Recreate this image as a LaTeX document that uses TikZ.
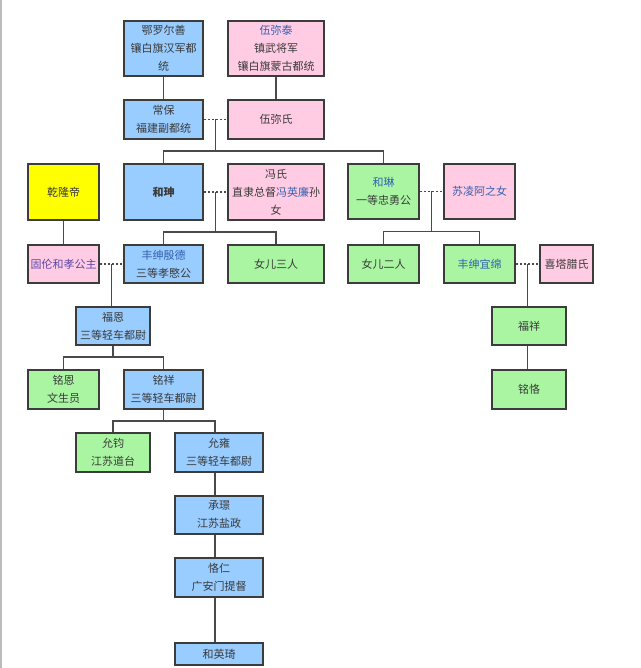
\documentclass[tikz,border=0pt]{standalone}
\usepackage{fontspec}
\newfontfamily\cjk{Noto Sans CJK SC}
\usetikzlibrary{calc}
\definecolor{cblue}{HTML}{99CCFF}
\definecolor{cpink}{HTML}{FFCCE3}
\definecolor{cgreen}{HTML}{A9F5A2}
\definecolor{cyellow}{HTML}{FFFF00}
\definecolor{bord}{HTML}{3C3C3C}
\definecolor{lnc}{HTML}{4A4A4A}
\definecolor{txt}{HTML}{3A3A3A}
\definecolor{tblue}{HTML}{3560B0}
\definecolor{tpurple}{HTML}{5A48A8}
\definecolor{edge}{HTML}{BBBBBB}
\begin{document}
\begin{tikzpicture}[x=1pt,y=-1pt,
  bx/.style={draw=bord, line width=1.3pt, inner sep=0pt, align=center, text=txt,
    font=\cjk\fontsize{11}{18}\selectfont},
  bl/.style={bx, fill=cblue},
  pk/.style={bx, fill=cpink},
  gr/.style={bx, fill=cgreen},
  yl/.style={bx, fill=cyellow},
  sz/.style 2 args={minimum width=#1pt, minimum height=#2pt},
  ln/.style={draw=lnc, line width=1.3pt},
  sp/.style={draw=lnc, line width=1.3pt, dash pattern=on 2.5pt off 1.5pt}]
\useasboundingbox[fill=white] (0,0) rectangle (640,668);
\draw[edge, line width=2pt] (1,0) -- (1,668);

% nodes
\node[bl, sz={79}{55}] (eluo) at (163.5,48.5) {鄂罗尔善\\镶白旗汉军都\\统};
\node[pk, sz={96}{55}] (wumitai) at (276,48.5) {\textcolor{tblue}{伍弥泰}\\镇武将军\\镶白旗蒙古都统};
\node[bl, sz={79}{39}] (changbao) at (163.5,119.5) {常保\\福建副都统};
\node[pk, sz={96}{39}] (wumishi) at (276,119.5) {伍弥氏};
\node[yl, sz={71}{56}] (qianlong) at (63.5,192) {乾隆帝};
\node[bl, sz={79}{56}, font=\cjk\bfseries\fontsize{11}{18}\selectfont] (heshen) at (163.5,192) {和珅};
\node[pk, sz={96}{56}] (fengshi) at (276,192) {冯氏\\直隶总督\textcolor{tblue}{冯英廉}孙\\女};
\node[gr, sz={71}{55}] (helin) at (383.5,191.5) {\textcolor{tblue}{和琳}\\一等忠勇公};
\node[pk, sz={71}{55}] (suling) at (479.5,191.5) {\textcolor{tblue}{苏凌阿之女}};
\node[pk, sz={71}{38}] (gulun) at (63.5,264) {\textcolor{tpurple}{固伦和孝公主}};
\node[bl, sz={79}{38}] (yinde) at (163.5,264) {\textcolor{tblue}{丰绅殷德}\\三等孝愍公};
\node[gr, sz={96}{38}] (nver3) at (276,264) {女儿三人};
\node[gr, sz={71}{38}] (nver2) at (383.5,264) {女儿二人};
\node[gr, sz={71}{38}] (yimian) at (479.5,264) {\textcolor{tblue}{丰绅宜绵}};
\node[pk, sz={53}{38}] (xitala) at (566.5,264) {喜塔腊氏};
\node[bl, sz={74}{38}] (fuen) at (113,326) {福恩\\三等轻车都尉};
\node[gr, sz={71}{39}] (mingen) at (63.5,389.5) {铭恩\\文生员};
\node[bl, sz={79}{39}] (mingxiang) at (163.5,389.5) {铭祥\\三等轻车都尉};
\node[gr, sz={74}{38}] (fuxiang) at (529,326) {福祥};
\node[gr, sz={74}{39}] (mingke) at (529,389.5) {铭恪};
\node[gr, sz={74}{39}] (yunjun) at (113,452.5) {允钧\\江苏道台};
\node[bl, sz={88}{39}] (yunyong) at (219,452.5) {允雍\\三等轻车都尉};
\node[bl, sz={88}{38}] (chengjing) at (219,515) {承璟\\江苏盐政};
\node[bl, sz={88}{39}] (keren) at (219,577.5) {恪仁\\广安门提督};
\node[bl, sz={88}{22}] (heyingqi) at (219,654) {和英琦};

% connectors
\draw[ln] (eluo) -- (changbao);
\draw[ln] (wumitai) -- (wumishi);
\draw[ln] (qianlong) -- (gulun);

\draw[sp] (changbao.east) -- (wumishi.west);
\coordinate (m1) at ($(changbao.east)!0.5!(wumishi.west)$);
\coordinate (b1) at (215.5,151);
\draw[ln] (m1) -- (b1);
\draw[ln] (heshen.north) |- (b1) -| (helin.north);

\draw[sp] (heshen.east) -- (fengshi.west);
\coordinate (m2) at ($(heshen.east)!0.5!(fengshi.west)$);
\coordinate (b2) at (215.5,232);
\draw[ln] (m2) -- (b2);
\draw[ln] (yinde.north) |- (b2) -| (nver3.north);

\draw[sp] (helin.east) -- (suling.west);
\coordinate (m3) at ($(helin.east)!0.5!(suling.west)$);
\coordinate (b3) at (431.5,231.5);
\draw[ln] (m3) -- (b3);
\draw[ln] (nver2.north) |- (b3) -| (yimian.north);

\draw[sp] (gulun.east) -- (yinde.west);
\coordinate (m4) at ($(gulun.east)!0.5!(yinde.west)$);
\draw[ln] (m4) -- (m4 |- fuen.north);

\coordinate (b5) at (113,357);
\draw[ln] (fuen.south) -- (b5);
\draw[ln] (mingen.north) |- (b5) -| (mingxiang.north);

\coordinate (b6) at (163.5,421);
\coordinate (spine) at (215,421);
\draw[ln] (mingxiang.south) -- (b6);
\draw[ln] (yunjun.north) |- (b6) -- (spine) -- (spine |- yunyong.north);
\draw[ln] (spine |- yunyong.south) -- (spine |- chengjing.north);
\draw[ln] (spine |- chengjing.south) -- (spine |- keren.north);
\draw[ln] (spine |- keren.south) -- (spine |- heyingqi.north);

\draw[sp] (yimian.east) -- (xitala.west);
\coordinate (m8) at ($(yimian.east)!0.5!(xitala.west)$);
\draw[ln] (m8) -- (m8 |- fuxiang.north);
\draw[ln] (m8 |- fuxiang.south) -- (m8 |- mingke.north);
\end{tikzpicture}
\end{document}
